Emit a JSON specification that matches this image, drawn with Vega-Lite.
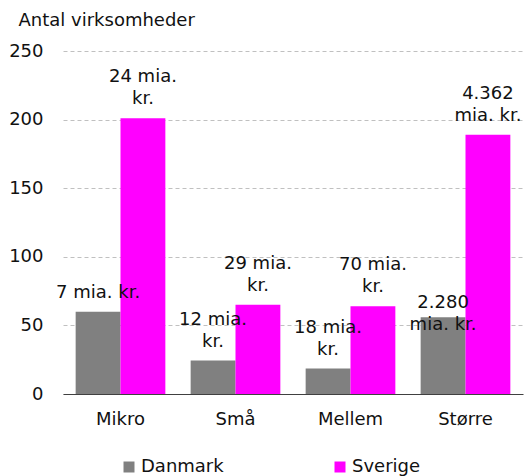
{
  "$schema": "https://vega.github.io/schema/vega-lite/v6.json",
  "width": 460,
  "height": 343,
  "autosize": {"type": "none"},
  "padding": {"left": 63, "top": 51, "right": 6, "bottom": 82},
  "background": "white",
  "config": {
    "font": "DejaVu Sans",
    "view": {"stroke": null},
    "axis": {"labelFont": "DejaVu Sans", "titleFont": "DejaVu Sans", "labelFontSize": 18, "labelColor": "#111111"},
    "legend": {"labelFont": "DejaVu Sans", "labelFontSize": 18, "labelColor": "#111111"}
  },
  "data": {
    "values": [
      {"kategori": "Mikro", "land": "Danmark", "antal": 60, "label": "7 mia. kr."},
      {"kategori": "Mikro", "land": "Sverige", "antal": 201, "label": "24 mia.\nkr."},
      {"kategori": "Små", "land": "Danmark", "antal": 24.4, "label": "12 mia.\nkr."},
      {"kategori": "Små", "land": "Sverige", "antal": 65, "label": "29 mia.\nkr."},
      {"kategori": "Mellem", "land": "Danmark", "antal": 18.5, "label": "18 mia.\nkr."},
      {"kategori": "Mellem", "land": "Sverige", "antal": 64, "label": "70 mia.\nkr."},
      {"kategori": "Større", "land": "Danmark", "antal": 56, "label": "2.280\nmia. kr."},
      {"kategori": "Større", "land": "Sverige", "antal": 189, "label": "4.362\nmia. kr."}
    ]
  },
  "encoding": {
    "x": {
      "field": "kategori",
      "type": "nominal",
      "sort": ["Mikro", "Små", "Mellem", "Større"],
      "scale": {"paddingInner": 0.22, "paddingOuter": 0.11},
      "axis": {
        "title": null,
        "labelAngle": 0,
        "ticks": false,
        "domainColor": "#404040",
        "domainWidth": 1.2,
        "labelPadding": 16,
        "grid": false
      }
    },
    "xOffset": {
      "field": "land",
      "type": "nominal",
      "sort": ["Danmark", "Sverige"],
      "scale": {"paddingInner": 0, "paddingOuter": 0}
    },
    "y": {
      "field": "antal",
      "type": "quantitative",
      "scale": {"domain": [0, 250]},
      "axis": {
        "title": "Antal virksomheder",
        "titleAngle": 0,
        "titleAlign": "left",
        "titleBaseline": "alphabetic",
        "titleX": -45,
        "titleY": -26,
        "titleFontSize": 18,
        "titleFontWeight": "normal",
        "titleColor": "#111111",
        "values": [0, 50, 100, 150, 200, 250],
        "ticks": false,
        "domain": false,
        "labelPadding": 20,
        "gridColor": "#c0c0c0",
        "gridDash": [4, 3],
        "gridWidth": 1
      }
    }
  },
  "layer": [
    {
      "mark": {"type": "bar"},
      "encoding": {
        "color": {
          "field": "land",
          "type": "nominal",
          "sort": ["Danmark", "Sverige"],
          "scale": {"domain": ["Danmark", "Sverige"], "range": ["#808080", "#ff00ff"]},
          "legend": {
            "title": null,
            "orient": "none",
            "direction": "horizontal",
            "legendX": 57,
            "legendY": 407,
            "symbolType": "square",
            "symbolSize": 121,
            "symbolStrokeWidth": 0,
            "labelOffset": 3,
            "columnPadding": 107
          }
        }
      }
    },
    {
      "transform": [{"filter": "indexof(datum.label, '\\n') < 0"}],
      "mark": {"type": "text", "baseline": "bottom", "align": "center", "dy": -10, "fontSize": 18, "lineHeight": 22, "lineBreak": "\n", "color": "#111111"},
      "encoding": {"text": {"field": "label"}}
    },
    {
      "transform": [{"filter": "indexof(datum.label, '\\n') >= 0 && !(datum.kategori == 'Større' && datum.land == 'Danmark')"}],
      "mark": {"type": "text", "baseline": "bottom", "align": "center", "dy": -32, "fontSize": 18, "lineHeight": 22, "lineBreak": "\n", "color": "#111111"},
      "encoding": {"text": {"field": "label"}}
    },
    {
      "transform": [{"filter": "datum.kategori == 'Større' && datum.land == 'Danmark'"}],
      "mark": {"type": "text", "baseline": "bottom", "align": "center", "dy": -5, "fontSize": 18, "lineHeight": 22, "lineBreak": "\n", "color": "#111111"},
      "encoding": {"text": {"field": "label"}}
    }
  ]
}
